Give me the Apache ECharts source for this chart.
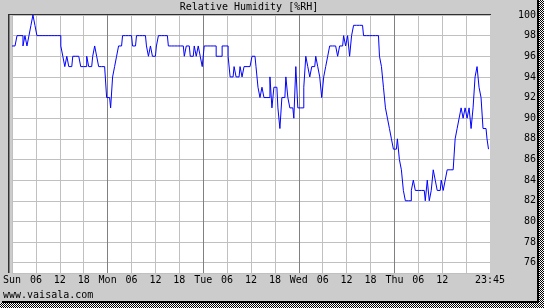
<!DOCTYPE html>
<html><head><meta charset="utf-8">
<script src="https://cdn.jsdelivr.net/npm/echarts@6/dist/echarts.min.js"></script>
<style>html,body{margin:0;padding:0;background:#cccccc;} #c{width:544px;height:308px;}</style>
</head><body><div id="c"></div><script>
// Half-hourly relative humidity readings (%RH), one array per day
const sun = [97,97,97,98,98,98,97,98,97,98,99,100,99,98,98,98,98,98,98,98,98,98,98,98,98,97,96,95,96,95,95,96,96,96,96,95,95,95,96,95,95,96,97,96,95,95,95,95];
const mon = [92,92,91,94,95,96,97,97,98,98,98,98,98,97,97,98,98,98,98,98,97,96,97,96,96,97,98,98,98,98,98,97,97,97,97,97,97,97,97,96,97,97,96,96,97,96,97,96];
const tue = [95,97,97,97,97,97,97,96,96,96,97,97,97,96,94,94,95,94,94,95,94,95,95,95,95,96,96,95,93,92,93,92,92,92,94,91,93,93,91,89,92,92,94,92,91,91,90,95];
const wed = [91,91,91,93,96,95,94,95,95,96,95,94,92,94,95,96,97,97,97,97,96,97,97,98,97,98,96,98,99,99,99,99,99,98,98,98,98,98,98,98,98,96,95,93,91,90,89,88];
const thu = [87,87,88,86,85,83,82,82,82,83,84,83,83,83,83,83,82,84,82,83,85,84,83,83,84,83,84,85,85,85,85,88,89,90,91,90,91,90,91,89,91,94,95,93,92,89,89,88];
const lastReading = [119.75, 87];           // Thu 23:45
const stepHours = 0.5;

const xTickLabels = ['Sun','06','12','18','Mon','06','12','18','Tue','06','12','18','Wed','06','12','18','Thu','06','12','','23:45'];
const yTickLabels = ['76','78','80','82','84','86','88','90','92','94','96','98','100'];

const values = [].concat(sun, mon, tue, wed, thu);
const seriesData = values.map((v, i) => [i * stepHours, v]);
seriesData.push(lastReading);

const FONT = 'DejaVu Sans Mono';
const pc = document.createElement('canvas'); pc.width = 2; pc.height = 2;
const g = pc.getContext('2d');
g.fillStyle = '#ffffff'; g.fillRect(0,0,2,2);
g.fillStyle = '#000000'; g.fillRect(0,0,1,1); g.fillRect(1,1,1,1);
const checker = {image: pc, repeat: 'repeat'};

const chart = echarts.init(document.getElementById('c'), null, {renderer: 'canvas'});
chart.setOption({
  animation: false,
  backgroundColor: '#cccccc',
  grid: {left: 10, top: 15, width: 480, height: 258, backgroundColor: '#ffffff', show: true, borderWidth: 0},
  xAxis: {
    type: 'value', min: 0, max: 120, interval: 6,
    axisLine: {show: true, lineStyle: {color: '#c0c0c0', width: 1}},
    axisTick: {show: false},
    axisLabel: {
      color: '#000', fontFamily: FONT, fontSize: 10, margin: 2,
      formatter: v => xTickLabels[Math.round(v / 6)] || ''
    },
    splitLine: {show: true, showMaxLine: false, lineStyle: {color: ['#808080','#c0c0c0','#c0c0c0','#c0c0c0'], width: 1}}
  },
  yAxis: {
    type: 'value', position: 'right', min: 75, max: 100, interval: 1,
    axisLine: {show: true, lineStyle: {color: '#c0c0c0', width: 1}},
    axisTick: {show: false},
    axisLabel: {
      color: '#000', fontFamily: FONT, fontSize: 10, margin: 46, align: 'right',
      formatter: v => (v % 2 === 0 ? yTickLabels[(v - 76) / 2] : '')
    },
    splitLine: {show: true, lineStyle: {color: ['rgba(0,0,0,0)', '#c0c0c0'], width: 1}}
  },
  series: [{
    type: 'line', data: seriesData, step: 'middle', symbol: 'none',
    lineStyle: {color: '#0000ff', width: 1}, z: 5
  }],
  graphic: [
    {type: 'text', style: {text: 'Relative Humidity [%RH]', x: 249, y: 7, align: 'center', verticalAlign: 'middle', font: '10px ' + FONT, fill: '#000'}, z: 10},
    {type: 'text', style: {text: 'www.vaisala.com', x: 3, y: 295, align: 'left', verticalAlign: 'middle', font: '10px ' + FONT, fill: '#000'}, z: 10},
    {type: 'rect', shape: {x: 8, y: 14, width: 483, height: 1}, style: {fill: '#303030'}, z: 10},
    {type: 'rect', shape: {x: 8, y: 14, width: 1, height: 259}, style: {fill: '#303030'}, z: 10},
    {type: 'rect', shape: {x: 9, y: 15, width: 1, height: 258}, style: {fill: '#808080'}, z: 10},
    {type: 'rect', shape: {x: 537, y: 0, width: 2, height: 303}, style: {fill: '#000'}, z: 10},
    {type: 'rect', shape: {x: 2, y: 301, width: 537, height: 2}, style: {fill: '#000'}, z: 10},
    {type: 'rect', shape: {x: 539, y: 0, width: 5, height: 308}, style: {fill: checker}, z: 10},
    {type: 'rect', shape: {x: 0, y: 303, width: 544, height: 5}, style: {fill: checker}, z: 10}
  ]
});
</script></body></html>
